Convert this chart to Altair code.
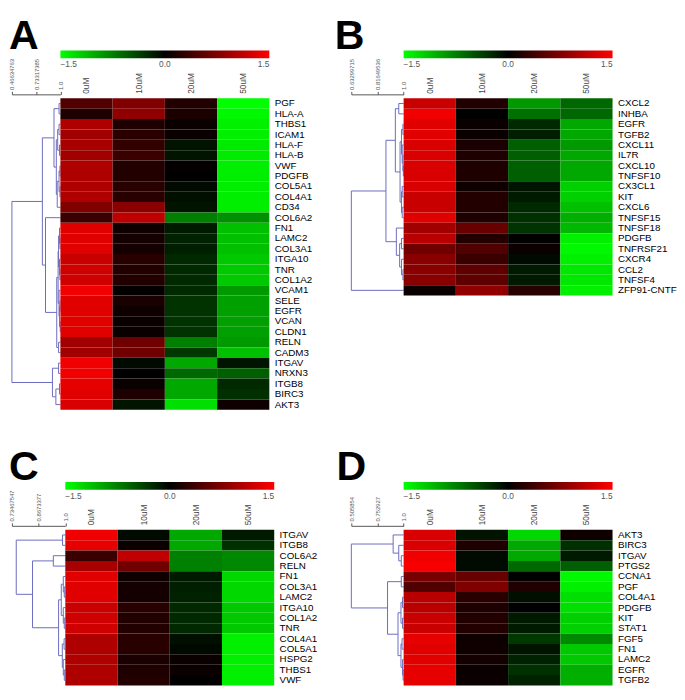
import altair as alt
import pandas as pd

FONT = "Liberation Sans"
LINE_COLOR = "#6a6ac0"
ROW_H = 10.6
HEAT_W = 213.3
COLS = ["0uM", "10uM", "20uM", "50uM"]

# ---------------- Panel A ----------------
GENES_A = ["PGF", "HLA-A", "THBS1", "ICAM1", "HLA-F", "HLA-B", "VWF", "PDGFB", "COL5A1",
           "COL4A1", "CD34", "COL6A2", "FN1", "LAMC2", "COL3A1", "ITGA10", "TNR", "COL1A2",
           "VCAM1", "SELE", "EGFR", "VCAN", "CLDN1", "RELN", "CADM3", "ITGAV", "NRXN3",
           "ITGB8", "BIRC3", "AKT3"]
VALUES_A = [
    [0.47, 0.75, 0.19, -1.50], [0.18, 0.85, 0.16, -1.46], [1.03, 0.18, 0.06, -1.41],
    [0.94, 0.24, 0.06, -1.41], [0.99, 0.30, -0.12, -1.38], [0.94, 0.34, -0.12, -1.38],
    [1.03, 0.20, 0.03, -1.40], [1.03, 0.20, 0.00, -1.40], [1.03, 0.24, -0.06, -1.40],
    [1.03, 0.24, -0.09, -1.40], [0.75, 0.82, -0.12, -1.40], [0.34, 1.13, -0.75, -0.85],
    [1.32, 0.09, -0.15, -1.13], [1.32, 0.12, -0.20, -1.13], [1.32, 0.12, -0.18, -1.13],
    [1.18, 0.24, -0.24, -1.18], [1.22, 0.20, -0.24, -1.18], [1.22, 0.20, -0.24, -1.18],
    [1.41, 0.02, -0.24, -0.90], [1.32, 0.15, -0.30, -0.94], [1.32, 0.09, -0.30, -0.94],
    [1.32, 0.06, -0.30, -0.94], [1.32, 0.06, -0.30, -0.94], [0.94, 0.66, -0.75, -0.90],
    [0.94, 0.66, -0.33, -1.13], [1.41, -0.06, -0.99, -0.12], [1.41, 0.00, -0.61, -0.56],
    [1.36, 0.06, -0.99, -0.24], [1.32, 0.18, -0.99, -0.28], [1.27, -0.12, -1.32, 0.09],
]
TREE_A = [0.46634763,
          [0.8016,
           [0.9295, [0.985, 0, 1],
            [0.955, [0.97, [0.985, 2, 3], [0.99, 4, 5]],
             [0.965, [0.985, [0.995, 6, 7], [0.995, 8, 9]], 10]]],
           [0.836, 11,
            [0.9597,
             [0.9748,
              [0.98, [0.99, 12, [0.995, 13, 14]], [0.99, 15, [0.995, 16, 17]]],
              [0.985, 18, [0.99, [0.995, 19, 20], [0.998, 21, 22]]]],
             [0.98, 23, 24]]]],
          [0.9124, [0.98, 25, 26], [0.95, [0.99, 27, 28], 29]]]
SCALE_A = ["0.46634763", "0.73317385", "1.0"]

# ---------------- Panel B ----------------
GENES_B = ["CXCL2", "INHBA", "EGFR", "TGFB2", "CXCL11", "IL7R", "CXCL10", "TNFSF10",
           "CX3CL1", "KIT", "CXCL6", "TNFSF15", "TNFSF18", "PDGFB", "TNFRSF21", "CXCR4",
           "CCL2", "TNFSF4", "ZFP91-CNTF"]
VALUES_B = [
    [1.18, 0.20, -0.90, -0.61], [1.41, 0.00, -0.66, -0.61], [1.32, 0.06, -0.24, -0.99],
    [1.32, 0.06, -0.18, -0.99], [1.27, 0.15, -0.56, -0.90], [1.27, 0.18, -0.56, -0.99],
    [1.27, 0.18, -0.56, -0.99], [1.27, 0.18, -0.56, -0.99], [1.27, 0.09, -0.12, -1.22],
    [1.18, 0.20, -0.15, -1.22], [1.18, 0.20, -0.24, -1.13], [1.32, 0.18, -0.28, -1.03],
    [0.94, 0.61, -0.30, -1.08], [1.08, 0.20, 0.00, -1.41], [0.66, 0.47, 0.06, -1.46],
    [0.80, 0.34, -0.06, -1.41], [0.80, 0.56, -0.15, -1.36], [0.80, 0.56, -0.15, -1.36],
    [0.06, 0.85, 0.24, -1.41],
]
TREE_B = [0.63299715,
          [0.876,
           [0.942, [0.966, 0, 1],
            [0.975,
             [0.985, [0.995, 2, 3], [0.99, 4, [0.995, 5, [0.998, 6, 7]]]],
             [0.985, [0.99, 8, 9], [0.99, 10, 11]]]],
           [0.949, 12, [0.972, [0.985, 13, 14], [0.985, 15, [0.995, 16, 17]]]]],
          18]
SCALE_B = ["0.63299715", "0.81649536", "1.0"]

# ---------------- Panel C ----------------
GENES_C = ["ITGAV", "ITGB8", "COL6A2", "RELN", "FN1", "COL3A1", "LAMC2", "ITGA10",
           "COL1A2", "TNR", "COL4A1", "COL5A1", "HSPG2", "THBS1", "VWF"]
VALUES_C = [
    [1.41, -0.06, -0.99, -0.15], [1.36, 0.06, -0.99, -0.28], [0.34, 1.13, -0.75, -0.80],
    [0.99, 0.66, -0.75, -0.80], [1.32, 0.09, -0.15, -1.27], [1.32, 0.12, -0.18, -1.27],
    [1.32, 0.12, -0.20, -1.27], [1.18, 0.24, -0.24, -1.18], [1.22, 0.20, -0.24, -1.18],
    [1.22, 0.20, -0.24, -1.18], [1.03, 0.24, -0.09, -1.41], [1.03, 0.24, -0.05, -1.41],
    [1.03, 0.15, 0.06, -1.41], [1.03, 0.18, 0.06, -1.41], [1.03, 0.20, 0.00, -1.41],
]
TREE_C = [0.7562,
          [0.9863, 0, 1],
          [0.8371, [0.9405, 2, 3],
           [0.9666,
            [0.98, [0.99, 4, [0.995, 5, 6]], [0.99, 7, [0.995, 8, 9]]],
            [0.985, [0.994, 10, 11], [0.99, 12, [0.995, 13, 14]]]]]]
SCALE_C = ["0.73467547", "0.8673377", "1.0"]

# ---------------- Panel D ----------------
GENES_D = ["AKT3", "BIRC3", "ITGAV", "PTGS2", "CCNA1", "PGF", "COL4A1", "PDGFB", "KIT",
           "STAT1", "FGF5", "FN1", "LAMC2", "EGFR", "TGFB2"]
VALUES_D = [
    [1.27, -0.12, -1.27, 0.09], [1.27, 0.18, -0.99, -0.28], [1.41, -0.06, -0.99, -0.15],
    [1.46, -0.06, -0.61, -0.56], [0.71, 0.61, 0.00, -1.46], [0.47, 0.75, 0.19, -1.41],
    [1.08, 0.24, -0.09, -1.32], [1.08, 0.18, 0.00, -1.32], [1.18, 0.20, -0.15, -1.22],
    [1.18, 0.20, -0.15, -1.22], [1.36, 0.09, -0.33, -0.80], [1.32, 0.09, -0.12, -1.18],
    [1.32, 0.12, -0.20, -1.18], [1.36, 0.06, -0.28, -1.03], [1.36, 0.06, -0.20, -1.03],
]
TREE_D = [0.505854,
          [0.901, 0, [0.954, 1, [0.978, 2, 3]]],
          [0.848, [0.978, 4, 5],
           [0.947,
            [0.975, [0.99, 6, 7], [0.99, 8, 9]],
            [0.975, [0.985, 10, 11], [0.99, 12, [0.995, 13, 14]]]]]]
SCALE_D = ["0.505854", "0.752927", "1.0"]


def dendro_segments(tree):
    segs = []

    def walk(node):
        if isinstance(node, int):
            return 1.0, node + 0.5
        h, left, right = node
        lh, ly = walk(left)
        rh, ry = walk(right)
        segs.append(dict(x=h, x2=h, y=ly, y2=ry))
        segs.append(dict(x=h, x2=lh, y=ly, y2=ly))
        segs.append(dict(x=h, x2=rh, y=ry, y2=ry))
        return h, (ly + ry) / 2

    walk(tree)
    return pd.DataFrame(segs)


def panel(letter, genes, values, tree, scale_labels, dw, title_dx):
    n = len(genes)
    H = n * ROW_H
    W = dw + HEAT_W
    rows = []
    for i, g in enumerate(genes):
        for j, c in enumerate(COLS):
            rows.append({"gene": g, "col": c, "v": values[i][j]})
    heat_df = pd.DataFrame(rows)
    vals = [float(s) for s in scale_labels]
    m1 = (vals[0] + vals[1]) / 2
    m2 = (vals[1] + vals[2]) / 2
    label_expr = (f"datum.value < {m1} ? '{scale_labels[0]}' : "
                  f"datum.value < {m2} ? '{scale_labels[1]}' : '{scale_labels[2]}'")

    dendro = alt.Chart(dendro_segments(tree)).mark_rule(
        color=LINE_COLOR, strokeWidth=1
    ).encode(
        x=alt.X("x:Q",
                scale=alt.Scale(domain=[vals[0], 1.0], range=[0, dw], nice=False, zero=False),
                axis=alt.Axis(orient="top", values=vals, labelExpr=label_expr, title=None,
                              grid=False, labelAngle=270, labelAlign="left",
                              labelBaseline="middle", tickSize=3, offset=4, labelPadding=2,
                              labelFontSize=6, labelColor="#555", labelFont=FONT,
                              domainColor="#555", tickColor="#555", labelFlush=False,
                              labelOverlap=False)),
        x2="x2:Q",
        y=alt.Y("y:Q", scale=alt.Scale(domain=[0, n], reverse=True, nice=False, zero=False),
                axis=None),
        y2="y2:Q",
    )

    heat = alt.Chart(heat_df).mark_rect().encode(
        x=alt.X("col:N", sort=COLS,
                scale=alt.Scale(range=[dw, W], paddingInner=0, paddingOuter=0),
                axis=alt.Axis(orient="top", title=None, labelAngle=270, labelAlign="left",
                              labelBaseline="middle", labelPadding=5, ticks=False, tickSize=0,
                              domain=False, labelFontSize=8.5, labelColor="#444",
                              labelFont=FONT)),
        y=alt.Y("gene:N", sort=genes,
                scale=alt.Scale(paddingInner=0, paddingOuter=0),
                axis=alt.Axis(orient="right", title=None, ticks=False, tickSize=0,
                              domain=False, labelPadding=5, labelFontSize=10,
                              labelColor="black", labelFont=FONT)),
        color=alt.Color("v:Q",
                        scale=alt.Scale(domain=[-1.5, 0, 1.5],
                                        range=["#00ff00", "#000000", "#ff0000"],
                                        interpolate="rgb", clamp=True),
                        legend=alt.Legend(orient="none", legendX=dw, legendY=-48.8,
                                          direction="horizontal", gradientLength=HEAT_W,
                                          gradientThickness=8, title=None,
                                          values=[-1.5, 0, 1.5], format=".1f",
                                          labelFontSize=8.5, labelColor="#555",
                                          labelFont=FONT, padding=0,
                                          gradientStrokeWidth=0)),
    )

    return alt.layer(dendro, heat).resolve_scale(
        x="independent", y="independent"
    ).properties(
        width=W, height=H,
        title=alt.TitleParams(text=letter, anchor="start", frame="group", fontSize=42,
                              fontWeight="bold", font=FONT, color="black", offset=0,
                              dx=title_dx, dy=7.3),
    )


pA = panel("A", GENES_A, VALUES_A, TREE_A, SCALE_A, 49.5, -3)
pB = panel("B", GENES_B, VALUES_B, TREE_B, SCALE_B, 53.4, -17)
pC = panel("C", GENES_C, VALUES_C, TREE_C, SCALE_C, 54.5, -3)
pD = panel("D", GENES_D, VALUES_D, TREE_D, SCALE_D, 53.4, -15)

chart = alt.concat(
    pA, pB, pC, pD, columns=2, bounds="flush",
    spacing=alt.RowColnumber(row=122.5, column=78.5),
).resolve_scale(color="independent").resolve_legend(color="independent").properties(
    padding=0
).configure_view(stroke=None)

chart.save("out.html", embed_options={"renderer": "svg", "actions": False})
